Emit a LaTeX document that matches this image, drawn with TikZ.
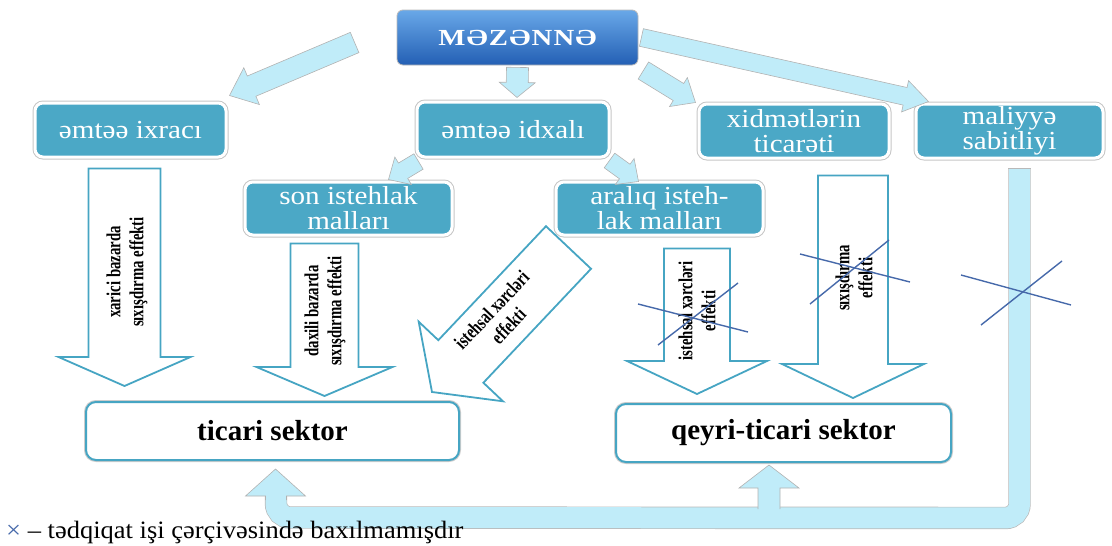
\documentclass[tikz,border=0pt]{standalone}
\usepackage{fontspec}
\setmainfont{Liberation Serif}
\newfontfamily\topfont[FakeStretch=1.25,LetterSpace=5]{Liberation Serif}
\newfontfamily\boxfont[FakeStretch=1.12]{Liberation Serif}
\newfontfamily\effectfont[FakeStretch=0.74]{Liberation Serif}
\newfontfamily\legendfont[FakeStretch=1.06]{Liberation Serif}
\usetikzlibrary{calc}

\definecolor{tealfill}{RGB}{75,168,198}
\definecolor{tealline}{RGB}{70,165,195}
\definecolor{lightarrow}{RGB}{192,236,249}
\definecolor{crossblue}{RGB}{70,105,170}
\definecolor{topblueA}{RGB}{105,168,232}
\definecolor{topblueB}{RGB}{35,95,180}

% block arrow: [style]{tail}{tip}{half shaft}{half head}{head length}
\newcommand{\blockarrow}[6][]{%
  \coordinate (ba-a) at (#2);
  \coordinate (ba-b) at (#3);
  \coordinate (ba-n) at ($(ba-b)!#6!(ba-a)$);
  \path[#1] ($(ba-a)!#4!90:(ba-b)$) -- ($(ba-n)!#4!-90:(ba-a)$)
    -- ($(ba-n)!#5!-90:(ba-a)$) -- (ba-b)
    -- ($(ba-n)!#5!90:(ba-a)$) -- ($(ba-n)!#4!90:(ba-a)$)
    -- ($(ba-a)!#4!-90:(ba-b)$) -- cycle;
}

\tikzset{
  topbox/.style={rounded corners=6pt, top color=topblueA, bottom color=topblueB,
    draw=gray!55, line width=0.8pt, text=white, inner sep=0pt,
    font=\topfont\fontsize{23}{26}\selectfont\bfseries},
  tealbox/.style={rounded corners=8pt, fill=tealfill, draw=white, line width=3pt,
    preaction={draw=gray!45, line width=5pt}, text=white, align=center, inner sep=0pt,
    font=\boxfont\fontsize{26}{25}\selectfont},
  sectorbox/.style={rounded corners=10pt, fill=white, draw=tealline, line width=2pt,
    preaction={draw=gray!40, line width=4pt}, inner sep=0pt,
    font=\fontsize{29}{32}\selectfont\bfseries},
  bigarrow/.style={fill=white, draw=tealline, line width=1.8pt, line join=miter},
  smallarrow/.style={fill=lightarrow, draw=gray!60, line width=0.6pt},
  effect/.style={align=center, inner sep=0pt, font=\effectfont\fontsize{20}{23}\selectfont\bfseries},
  crossline/.style={draw=crossblue, line width=1.4pt},
  band/.style={draw=gray!55, double=lightarrow, double distance=21pt, line width=0.7pt,
    rounded corners=14pt},
}

\begin{document}
\begin{tikzpicture}[x=1pt,y=1pt,yscale=-1,xscale=1]
\useasboundingbox (0,0) rectangle (1112,546);

% Top box
\node[topbox, minimum width=241pt, minimum height=55pt] (top) at (517.5,37.5) {MƏZƏNNƏ};

%Shape: Rounded Rect (first row)
\node[tealbox, minimum width=191pt, minimum height=54pt] (ixr) at (130.5,130) {əmtəə ixracı};
\node[tealbox, minimum width=192pt, minimum height=55pt] (idx) at (513,129.5) {əmtəə idxalı};
\node[tealbox, minimum width=190pt, minimum height=54pt] (xid) at (794,131) {xidmətlərin\\ticarəti};
\node[tealbox, minimum width=187pt, minimum height=54pt] (mal) at (1009.5,131) {maliyyə\\sabitliyi};

%Shape: Rounded Rect (second row)
\node[tealbox, minimum width=207pt, minimum height=53pt] (son) at (348.5,208.5) {son istehlak\\malları};
\node[tealbox, minimum width=207pt, minimum height=53pt] (ara) at (659.5,208.5) {aralıq isteh-\\lak malları};

%Shape: Rounded Rect (sectors)
\node[sectorbox, minimum width=373pt, minimum height=58pt] (tic) at (272.5,431) {ticari sektor};
\node[sectorbox, minimum width=335pt, minimum height=58pt] (qey) at (783.5,433) {qeyri-ticari sektor};

%Small arrows
\blockarrow[smallarrow]{$(top.west)+(-42,5)$}{$(ixr.north east)+(2,-6)$}{11pt}{20pt}{24pt}
\blockarrow[smallarrow]{$(top.south)+(0,2)$}{$(idx.north)+(4,-3)$}{11pt}{18pt}{15pt}
\blockarrow[smallarrow]{$(top.east)+(5,33)$}{$(xid.north west)+(-2,0)$}{10pt}{17pt}{20pt}
\blockarrow[smallarrow]{$(top.east)+(3,0)$}{$(mal.north west)+(14,-1)$}{9pt}{16pt}{24pt}
\blockarrow[smallarrow]{$(idx.south west)+(3,3)$}{$(son.north east)+(-65,-1)$}{9pt}{16pt}{17pt}
\blockarrow[smallarrow]{$(idx.south east)+(-1,2)$}{$(ara.north west)+(84,1)$}{9pt}{16pt}{17pt}

%Big arrows
\blockarrow[bigarrow]{$(ixr.south)+(-6,10)$}{$(ixr.south |- tic.north)+(-6,-15)$}{36pt}{66pt}{29pt}
\blockarrow[bigarrow]{$(son.south)+(-24,7)$}{$(son.south |- tic.north)+(-24,-5)$}{34pt}{68pt}{29pt}
\blockarrow[bigarrow]{$(ara.south west)+(14,11)$}{$(tic.north east)+(-28,-9)$}{31pt}{58pt}{42pt}
\blockarrow[bigarrow]{$(ara.south)+(37.5,12)$}{$(ara.south |- qey.north)+(37.5,-9)$}{33pt}{70pt}{33pt}
\blockarrow[bigarrow]{$(xid.south)+(59,16)$}{$(xid.south |- qey.north)+(59,-5)$}{35pt}{71pt}{34pt}

% Text Node
\node[effect, rotate=90] (e-xarici) at (127,272) {xarici bazarda\\sıxışdırma effekti};
\node[effect, rotate=90] (e-daxili) at (325,311) {daxili bazarda\\sıxışdırma effekti};
\node[effect, rotate=46.6] (e-xerc) at (500,318) {istehsal xərcləri\\effekti};
\node[effect, rotate=90] (e-xerc2) at (697,311) {istehsal xərcləri\\effekti};
\node[effect, rotate=90] (e-sixis) at (854,278) {sıxışdırma\\effekti};

%Feedback band
\coordinate (fb-a) at ($(mal.south)+(10,9)$);
\coordinate (fb-b) at ($(mal.south)+(10,358.5)$);
\coordinate (fb-c) at ($(tic.south)+(3.5,56.5)$);
\coordinate (fb-d) at ($(tic.south)+(3.5,34)$);
\draw[band] (fb-a) -- (fb-b) -- (fb-c) -- (fb-d);
\draw[gray!55, line width=0.7pt] ($(fb-a)+(-11.2,0)$) -- ($(fb-a)+(11.2,0)$);
\path[smallarrow] ($(tic.south)+(-7,39)$) -- ($(tic.south)+(-7,35)$) -- ($(tic.south)+(-27,35)$)
  -- ($(tic.south)+(3,8)$) -- ($(tic.south)+(33,35)$) -- ($(tic.south)+(14,35)$) -- ($(tic.south)+(14,39)$);
\path[smallarrow] ($(qey.south)+(-25.5,46)$) -- ($(qey.south)+(-25.5,25)$) -- ($(qey.south)+(-44.5,25)$)
  -- ($(qey.south)+(-14.5,2)$) -- ($(qey.south)+(15.5,25)$) -- ($(qey.south)+(-3.5,25)$) -- ($(qey.south)+(-3.5,46)$);

%Straight Lines (crosses)
\draw[crossline] (638,304) -- (748,332);
\draw[crossline] (658,345) -- (738,283);
\draw[crossline] (800,254) -- (910,282);
\draw[crossline] (810,304) -- (889,240);
\draw[crossline] (961,275) -- (1071,305);
\draw[crossline] (981,325) -- (1062,261);

% Text Node
\node[anchor=base west, inner sep=0pt, font=\legendfont\fontsize{25}{27}\selectfont] (legend) at (6,538)
  {\textcolor{crossblue}{×} – tədqiqat işi çərçivəsində baxılmamışdır};

\end{tikzpicture}
\end{document}
